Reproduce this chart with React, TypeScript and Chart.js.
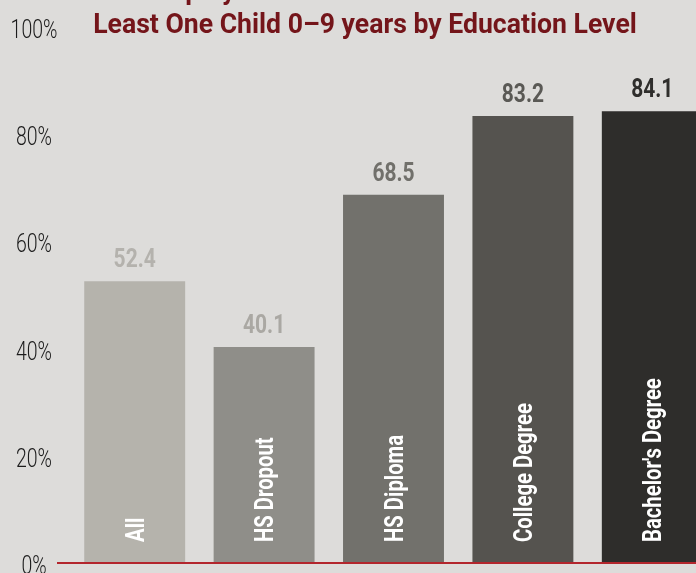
import React, { useEffect, useRef } from "react";
import { Chart, registerables } from "chart.js";

Chart.register(...registerables);

const categories = ["All", "HS Dropout", "HS Diploma", "College Degree", "Bachelor's Degree"];
const values = [52.4, 40.1, 68.5, 83.2, 84.1];
const barColors = ["#b5b3ac", "#8f8e89", "#72716c", "#55534f", "#2e2d2b"];
const valueColors = ["#b4b2ad", "#aaa8a3", "#71706b", "#5a5955", "#2f2e2c"];
const titleLines = ["Employment Rate of Mothers with at", "Least One Child 0\u20139 years by Education Level"];
const yTicks = [0, 20, 40, 60, 80, 100];

const FONT = "Roboto, 'Noto Sans', sans-serif";
const SX = 0.8;

function drawText(ctx: any, text: string, x: number, y: number, align: string, font: string, color: string, sx = SX, rot = 0) {
  ctx.save();
  ctx.translate(x, y);
  if (rot) ctx.rotate(rot);
  ctx.scale(sx, 1);
  ctx.font = font;
  ctx.fillStyle = color;
  ctx.textAlign = align;
  ctx.textBaseline = "alphabetic";
  ctx.fillText(text, 0, 0);
  ctx.restore();
}

const labelPlugin = {
  id: "customLabels",
  afterDatasetsDraw(chart: any) {
    const ctx = chart.ctx;
    const meta = chart.getDatasetMeta(0);
    const yScale = chart.scales.y;
    const base = yScale.getPixelForValue(0);
    // red baseline
    ctx.save();
    ctx.strokeStyle = "#b3262d";
    ctx.lineWidth = 2;
    ctx.beginPath();
    ctx.moveTo(57, base + 1);
    ctx.lineTo(chart.width, base + 1);
    ctx.stroke();
    ctx.restore();

    // y tick labels
    yTicks.forEach((v) => {
      const py = yScale.getPixelForValue(v);
      drawText(ctx, `${v}%`, 34, py + 12, "center", `300 25px ${FONT}`, "#1c1c1c", 0.78);
    });

    meta.data.forEach((bar: any, i: number) => {
      drawText(ctx, values[i].toFixed(1), bar.x, bar.y - 14, "center", `bold 25px ${FONT}`, valueColors[i], 0.84);
      // category label inside bar (rotated, reading upward)
      drawText(ctx, categories[i], bar.x + 9, base - 20, "left", `bold 26px ${FONT}`, "#ffffff", 0.78, -Math.PI / 2);
    });
  },
  afterDraw(chart: any) {
    const ctx = chart.ctx;
    drawText(ctx, titleLines[0], 365, -1, "center", `bold 28px ${FONT}`, "#74151a", 0.95);
    drawText(ctx, titleLines[1], 365, 33, "center", `bold 28px ${FONT}`, "#74151a", 0.95);
  },
};

export default function App() {
  const ref = useRef<HTMLCanvasElement | null>(null);
  useEffect(() => {
    if (!ref.current) return;
    const chart = new Chart(ref.current, {
      type: "bar",
      data: {
        labels: categories,
        datasets: [
          {
            data: values,
            backgroundColor: barColors,
            borderWidth: 0,
            barPercentage: 0.78,
            categoryPercentage: 1,
          },
        ],
      },
      options: {
        animation: false,
        responsive: false,
        maintainAspectRatio: false,
        layout: { padding: { top: 26, right: 23, bottom: 38, left: 0 } },
        plugins: {
          legend: { display: false },
          title: { display: false },
          tooltip: { enabled: false },
        },
        scales: {
          x: {
            display: false,
            offset: true,
            grid: { display: false },
          },
          y: {
            min: 0,
            max: 100,
            afterFit(scale: any) {
              scale.width = 70;
            },
            grid: { display: false, drawTicks: false },
            border: { display: false },
            ticks: { display: false, stepSize: 20 },
          },
        },
      },
      plugins: [labelPlugin],
    });
    return () => chart.destroy();
  }, []);

  return (
    <div
      style={{
        position: "fixed",
        left: 0,
        top: 0,
        width: 740,
        height: 600,
        background: "#dddcda",
        overflow: "hidden",
      }}
    >
      <canvas ref={ref} width={740} height={600} style={{ width: 740, height: 600, display: "block" }} />
    </div>
  );
}
